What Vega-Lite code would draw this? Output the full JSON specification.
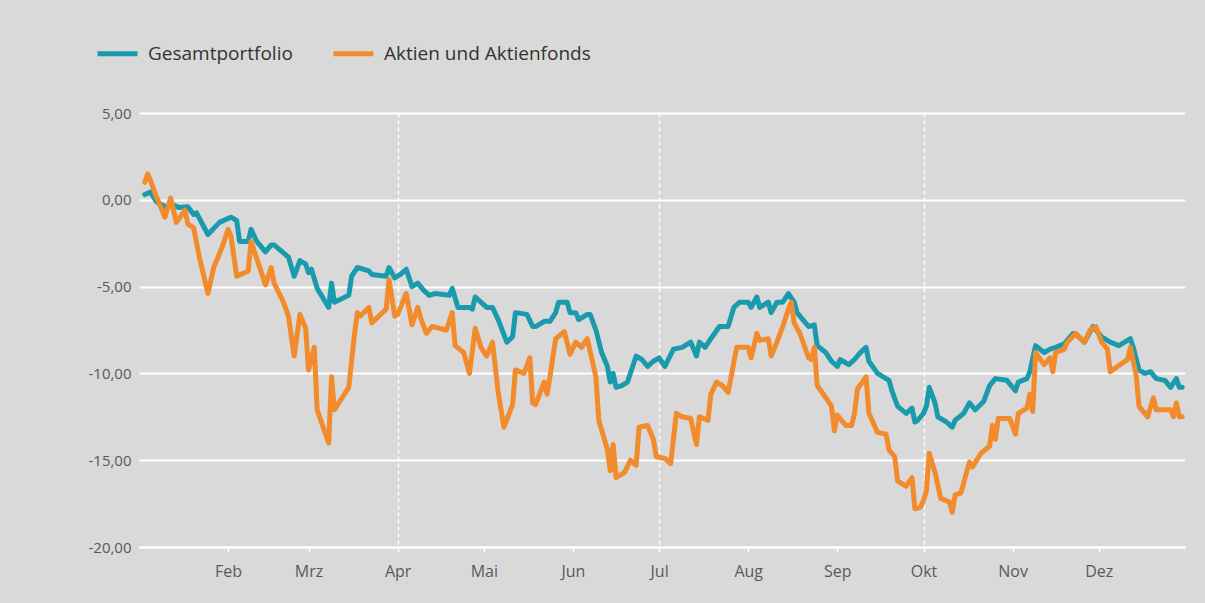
{
  "$schema": "https://vega.github.io/schema/vega-lite/v6.json",
  "width": 1046,
  "height": 434,
  "autosize": {"type": "none"},
  "padding": {"left": 139, "top": 113, "right": 20, "bottom": 56},
  "background": "#d9d9d9",
  "config": {
    "view": {"stroke": null},
    "font": "Open Sans"
  },
  "data": {"values": [
    {"date":"2022-01-03","s":"Gesamtportfolio","v":0.3},
    {"date":"2022-01-05","s":"Gesamtportfolio","v":0.45},
    {"date":"2022-01-07","s":"Gesamtportfolio","v":-0.1},
    {"date":"2022-01-10","s":"Gesamtportfolio","v":-0.4},
    {"date":"2022-01-13","s":"Gesamtportfolio","v":-0.3},
    {"date":"2022-01-15","s":"Gesamtportfolio","v":-0.45},
    {"date":"2022-01-18","s":"Gesamtportfolio","v":-0.4},
    {"date":"2022-01-20","s":"Gesamtportfolio","v":-0.85},
    {"date":"2022-01-21","s":"Gesamtportfolio","v":-0.75},
    {"date":"2022-01-25","s":"Gesamtportfolio","v":-2.0},
    {"date":"2022-01-29","s":"Gesamtportfolio","v":-1.3},
    {"date":"2022-02-02","s":"Gesamtportfolio","v":-1.0},
    {"date":"2022-02-04","s":"Gesamtportfolio","v":-1.2},
    {"date":"2022-02-05","s":"Gesamtportfolio","v":-2.4},
    {"date":"2022-02-08","s":"Gesamtportfolio","v":-2.4},
    {"date":"2022-02-09","s":"Gesamtportfolio","v":-1.7},
    {"date":"2022-02-11","s":"Gesamtportfolio","v":-2.4},
    {"date":"2022-02-14","s":"Gesamtportfolio","v":-3.0},
    {"date":"2022-02-16","s":"Gesamtportfolio","v":-2.6},
    {"date":"2022-02-17","s":"Gesamtportfolio","v":-2.6},
    {"date":"2022-02-22","s":"Gesamtportfolio","v":-3.3},
    {"date":"2022-02-24","s":"Gesamtportfolio","v":-4.4},
    {"date":"2022-02-26","s":"Gesamtportfolio","v":-3.5},
    {"date":"2022-02-28","s":"Gesamtportfolio","v":-3.7},
    {"date":"2022-03-01","s":"Gesamtportfolio","v":-4.2},
    {"date":"2022-03-02","s":"Gesamtportfolio","v":-4.0},
    {"date":"2022-03-04","s":"Gesamtportfolio","v":-5.1},
    {"date":"2022-03-08","s":"Gesamtportfolio","v":-6.2},
    {"date":"2022-03-09","s":"Gesamtportfolio","v":-4.8},
    {"date":"2022-03-10","s":"Gesamtportfolio","v":-5.9},
    {"date":"2022-03-15","s":"Gesamtportfolio","v":-5.5},
    {"date":"2022-03-16","s":"Gesamtportfolio","v":-4.4},
    {"date":"2022-03-18","s":"Gesamtportfolio","v":-3.9},
    {"date":"2022-03-22","s":"Gesamtportfolio","v":-4.1},
    {"date":"2022-03-23","s":"Gesamtportfolio","v":-4.3},
    {"date":"2022-03-28","s":"Gesamtportfolio","v":-4.4},
    {"date":"2022-03-29","s":"Gesamtportfolio","v":-3.9},
    {"date":"2022-03-31","s":"Gesamtportfolio","v":-4.5},
    {"date":"2022-04-02","s":"Gesamtportfolio","v":-4.3},
    {"date":"2022-04-04","s":"Gesamtportfolio","v":-4.0},
    {"date":"2022-04-06","s":"Gesamtportfolio","v":-5.0},
    {"date":"2022-04-08","s":"Gesamtportfolio","v":-4.8},
    {"date":"2022-04-10","s":"Gesamtportfolio","v":-5.2},
    {"date":"2022-04-12","s":"Gesamtportfolio","v":-5.5},
    {"date":"2022-04-14","s":"Gesamtportfolio","v":-5.4},
    {"date":"2022-04-19","s":"Gesamtportfolio","v":-5.5},
    {"date":"2022-04-20","s":"Gesamtportfolio","v":-5.1},
    {"date":"2022-04-22","s":"Gesamtportfolio","v":-6.2},
    {"date":"2022-04-26","s":"Gesamtportfolio","v":-6.2},
    {"date":"2022-04-27","s":"Gesamtportfolio","v":-6.3},
    {"date":"2022-04-28","s":"Gesamtportfolio","v":-5.6},
    {"date":"2022-05-02","s":"Gesamtportfolio","v":-6.2},
    {"date":"2022-05-04","s":"Gesamtportfolio","v":-6.2},
    {"date":"2022-05-06","s":"Gesamtportfolio","v":-6.9},
    {"date":"2022-05-09","s":"Gesamtportfolio","v":-8.2},
    {"date":"2022-05-11","s":"Gesamtportfolio","v":-7.9},
    {"date":"2022-05-12","s":"Gesamtportfolio","v":-6.5},
    {"date":"2022-05-16","s":"Gesamtportfolio","v":-6.6},
    {"date":"2022-05-18","s":"Gesamtportfolio","v":-7.3},
    {"date":"2022-05-19","s":"Gesamtportfolio","v":-7.3},
    {"date":"2022-05-22","s":"Gesamtportfolio","v":-7.0},
    {"date":"2022-05-24","s":"Gesamtportfolio","v":-7.0},
    {"date":"2022-05-26","s":"Gesamtportfolio","v":-6.5},
    {"date":"2022-05-27","s":"Gesamtportfolio","v":-5.9},
    {"date":"2022-05-30","s":"Gesamtportfolio","v":-5.9},
    {"date":"2022-05-31","s":"Gesamtportfolio","v":-6.5},
    {"date":"2022-06-02","s":"Gesamtportfolio","v":-6.5},
    {"date":"2022-06-03","s":"Gesamtportfolio","v":-6.9},
    {"date":"2022-06-06","s":"Gesamtportfolio","v":-6.6},
    {"date":"2022-06-07","s":"Gesamtportfolio","v":-6.6},
    {"date":"2022-06-09","s":"Gesamtportfolio","v":-7.5},
    {"date":"2022-06-11","s":"Gesamtportfolio","v":-8.8},
    {"date":"2022-06-13","s":"Gesamtportfolio","v":-9.6},
    {"date":"2022-06-14","s":"Gesamtportfolio","v":-10.5},
    {"date":"2022-06-15","s":"Gesamtportfolio","v":-10.0},
    {"date":"2022-06-16","s":"Gesamtportfolio","v":-10.8},
    {"date":"2022-06-18","s":"Gesamtportfolio","v":-10.7},
    {"date":"2022-06-20","s":"Gesamtportfolio","v":-10.5},
    {"date":"2022-06-23","s":"Gesamtportfolio","v":-9.0},
    {"date":"2022-06-25","s":"Gesamtportfolio","v":-9.2},
    {"date":"2022-06-27","s":"Gesamtportfolio","v":-9.6},
    {"date":"2022-06-29","s":"Gesamtportfolio","v":-9.3},
    {"date":"2022-07-01","s":"Gesamtportfolio","v":-9.1},
    {"date":"2022-07-03","s":"Gesamtportfolio","v":-9.6},
    {"date":"2022-07-06","s":"Gesamtportfolio","v":-8.6},
    {"date":"2022-07-09","s":"Gesamtportfolio","v":-8.5},
    {"date":"2022-07-12","s":"Gesamtportfolio","v":-8.2},
    {"date":"2022-07-14","s":"Gesamtportfolio","v":-9.0},
    {"date":"2022-07-15","s":"Gesamtportfolio","v":-8.2},
    {"date":"2022-07-17","s":"Gesamtportfolio","v":-8.5},
    {"date":"2022-07-19","s":"Gesamtportfolio","v":-8.0},
    {"date":"2022-07-22","s":"Gesamtportfolio","v":-7.3},
    {"date":"2022-07-25","s":"Gesamtportfolio","v":-7.3},
    {"date":"2022-07-27","s":"Gesamtportfolio","v":-6.2},
    {"date":"2022-07-29","s":"Gesamtportfolio","v":-5.9},
    {"date":"2022-08-01","s":"Gesamtportfolio","v":-5.9},
    {"date":"2022-08-02","s":"Gesamtportfolio","v":-6.2},
    {"date":"2022-08-04","s":"Gesamtportfolio","v":-5.6},
    {"date":"2022-08-05","s":"Gesamtportfolio","v":-6.2},
    {"date":"2022-08-08","s":"Gesamtportfolio","v":-5.9},
    {"date":"2022-08-09","s":"Gesamtportfolio","v":-6.5},
    {"date":"2022-08-11","s":"Gesamtportfolio","v":-5.9},
    {"date":"2022-08-13","s":"Gesamtportfolio","v":-5.9},
    {"date":"2022-08-15","s":"Gesamtportfolio","v":-5.4},
    {"date":"2022-08-17","s":"Gesamtportfolio","v":-5.9},
    {"date":"2022-08-18","s":"Gesamtportfolio","v":-6.5},
    {"date":"2022-08-22","s":"Gesamtportfolio","v":-7.3},
    {"date":"2022-08-24","s":"Gesamtportfolio","v":-7.2},
    {"date":"2022-08-25","s":"Gesamtportfolio","v":-8.4},
    {"date":"2022-08-28","s":"Gesamtportfolio","v":-8.8},
    {"date":"2022-08-30","s":"Gesamtportfolio","v":-9.3},
    {"date":"2022-09-01","s":"Gesamtportfolio","v":-9.6},
    {"date":"2022-09-02","s":"Gesamtportfolio","v":-9.2},
    {"date":"2022-09-05","s":"Gesamtportfolio","v":-9.5},
    {"date":"2022-09-07","s":"Gesamtportfolio","v":-9.2},
    {"date":"2022-09-09","s":"Gesamtportfolio","v":-8.8},
    {"date":"2022-09-11","s":"Gesamtportfolio","v":-8.5},
    {"date":"2022-09-12","s":"Gesamtportfolio","v":-9.3},
    {"date":"2022-09-15","s":"Gesamtportfolio","v":-10.0},
    {"date":"2022-09-19","s":"Gesamtportfolio","v":-10.4},
    {"date":"2022-09-20","s":"Gesamtportfolio","v":-11.0},
    {"date":"2022-09-22","s":"Gesamtportfolio","v":-11.9},
    {"date":"2022-09-25","s":"Gesamtportfolio","v":-12.3},
    {"date":"2022-09-27","s":"Gesamtportfolio","v":-12.0},
    {"date":"2022-09-28","s":"Gesamtportfolio","v":-12.8},
    {"date":"2022-09-29","s":"Gesamtportfolio","v":-12.7},
    {"date":"2022-10-01","s":"Gesamtportfolio","v":-12.3},
    {"date":"2022-10-02","s":"Gesamtportfolio","v":-11.9},
    {"date":"2022-10-03","s":"Gesamtportfolio","v":-10.8},
    {"date":"2022-10-05","s":"Gesamtportfolio","v":-11.7},
    {"date":"2022-10-06","s":"Gesamtportfolio","v":-12.5},
    {"date":"2022-10-09","s":"Gesamtportfolio","v":-12.8},
    {"date":"2022-10-11","s":"Gesamtportfolio","v":-13.1},
    {"date":"2022-10-12","s":"Gesamtportfolio","v":-12.7},
    {"date":"2022-10-15","s":"Gesamtportfolio","v":-12.3},
    {"date":"2022-10-17","s":"Gesamtportfolio","v":-11.7},
    {"date":"2022-10-19","s":"Gesamtportfolio","v":-12.1},
    {"date":"2022-10-22","s":"Gesamtportfolio","v":-11.6},
    {"date":"2022-10-24","s":"Gesamtportfolio","v":-10.7},
    {"date":"2022-10-26","s":"Gesamtportfolio","v":-10.3},
    {"date":"2022-10-30","s":"Gesamtportfolio","v":-10.4},
    {"date":"2022-11-02","s":"Gesamtportfolio","v":-11.0},
    {"date":"2022-11-03","s":"Gesamtportfolio","v":-10.5},
    {"date":"2022-11-06","s":"Gesamtportfolio","v":-10.3},
    {"date":"2022-11-07","s":"Gesamtportfolio","v":-9.9},
    {"date":"2022-11-09","s":"Gesamtportfolio","v":-8.4},
    {"date":"2022-11-12","s":"Gesamtportfolio","v":-8.8},
    {"date":"2022-11-14","s":"Gesamtportfolio","v":-8.6},
    {"date":"2022-11-16","s":"Gesamtportfolio","v":-8.5},
    {"date":"2022-11-19","s":"Gesamtportfolio","v":-8.3},
    {"date":"2022-11-22","s":"Gesamtportfolio","v":-7.7},
    {"date":"2022-11-24","s":"Gesamtportfolio","v":-7.9},
    {"date":"2022-11-26","s":"Gesamtportfolio","v":-8.2},
    {"date":"2022-11-29","s":"Gesamtportfolio","v":-7.3},
    {"date":"2022-12-02","s":"Gesamtportfolio","v":-7.9},
    {"date":"2022-12-05","s":"Gesamtportfolio","v":-8.2},
    {"date":"2022-12-08","s":"Gesamtportfolio","v":-8.4},
    {"date":"2022-12-11","s":"Gesamtportfolio","v":-8.1},
    {"date":"2022-12-12","s":"Gesamtportfolio","v":-8.0},
    {"date":"2022-12-13","s":"Gesamtportfolio","v":-8.5},
    {"date":"2022-12-15","s":"Gesamtportfolio","v":-9.8},
    {"date":"2022-12-17","s":"Gesamtportfolio","v":-10.0},
    {"date":"2022-12-19","s":"Gesamtportfolio","v":-9.9},
    {"date":"2022-12-21","s":"Gesamtportfolio","v":-10.3},
    {"date":"2022-12-24","s":"Gesamtportfolio","v":-10.4},
    {"date":"2022-12-26","s":"Gesamtportfolio","v":-10.8},
    {"date":"2022-12-28","s":"Gesamtportfolio","v":-10.3},
    {"date":"2022-12-29","s":"Gesamtportfolio","v":-10.8},
    {"date":"2022-12-30","s":"Gesamtportfolio","v":-10.8},
    {"date":"2022-01-03","s":"Aktien und Aktienfonds","v":1.0},
    {"date":"2022-01-04","s":"Aktien und Aktienfonds","v":1.5},
    {"date":"2022-01-05","s":"Aktien und Aktienfonds","v":1.1},
    {"date":"2022-01-07","s":"Aktien und Aktienfonds","v":0.2},
    {"date":"2022-01-10","s":"Aktien und Aktienfonds","v":-1.0},
    {"date":"2022-01-12","s":"Aktien und Aktienfonds","v":0.1},
    {"date":"2022-01-14","s":"Aktien und Aktienfonds","v":-1.3},
    {"date":"2022-01-17","s":"Aktien und Aktienfonds","v":-0.6},
    {"date":"2022-01-18","s":"Aktien und Aktienfonds","v":-1.4},
    {"date":"2022-01-20","s":"Aktien und Aktienfonds","v":-1.6},
    {"date":"2022-01-22","s":"Aktien und Aktienfonds","v":-3.3},
    {"date":"2022-01-25","s":"Aktien und Aktienfonds","v":-5.4},
    {"date":"2022-01-27","s":"Aktien und Aktienfonds","v":-3.9},
    {"date":"2022-01-30","s":"Aktien und Aktienfonds","v":-2.7},
    {"date":"2022-02-01","s":"Aktien und Aktienfonds","v":-1.7},
    {"date":"2022-02-02","s":"Aktien und Aktienfonds","v":-2.1},
    {"date":"2022-02-04","s":"Aktien und Aktienfonds","v":-4.4},
    {"date":"2022-02-08","s":"Aktien und Aktienfonds","v":-4.1},
    {"date":"2022-02-09","s":"Aktien und Aktienfonds","v":-2.4},
    {"date":"2022-02-14","s":"Aktien und Aktienfonds","v":-4.9},
    {"date":"2022-02-16","s":"Aktien und Aktienfonds","v":-3.9},
    {"date":"2022-02-17","s":"Aktien und Aktienfonds","v":-4.8},
    {"date":"2022-02-20","s":"Aktien und Aktienfonds","v":-5.8},
    {"date":"2022-02-22","s":"Aktien und Aktienfonds","v":-6.7},
    {"date":"2022-02-24","s":"Aktien und Aktienfonds","v":-9.0},
    {"date":"2022-02-26","s":"Aktien und Aktienfonds","v":-6.6},
    {"date":"2022-02-28","s":"Aktien und Aktienfonds","v":-7.4},
    {"date":"2022-03-01","s":"Aktien und Aktienfonds","v":-9.8},
    {"date":"2022-03-03","s":"Aktien und Aktienfonds","v":-8.5},
    {"date":"2022-03-04","s":"Aktien und Aktienfonds","v":-12.1},
    {"date":"2022-03-08","s":"Aktien und Aktienfonds","v":-14.0},
    {"date":"2022-03-09","s":"Aktien und Aktienfonds","v":-10.2},
    {"date":"2022-03-10","s":"Aktien und Aktienfonds","v":-12.1},
    {"date":"2022-03-15","s":"Aktien und Aktienfonds","v":-10.8},
    {"date":"2022-03-17","s":"Aktien und Aktienfonds","v":-7.7},
    {"date":"2022-03-18","s":"Aktien und Aktienfonds","v":-6.5},
    {"date":"2022-03-19","s":"Aktien und Aktienfonds","v":-6.7},
    {"date":"2022-03-22","s":"Aktien und Aktienfonds","v":-6.2},
    {"date":"2022-03-23","s":"Aktien und Aktienfonds","v":-7.1},
    {"date":"2022-03-28","s":"Aktien und Aktienfonds","v":-6.3},
    {"date":"2022-03-29","s":"Aktien und Aktienfonds","v":-4.6},
    {"date":"2022-03-31","s":"Aktien und Aktienfonds","v":-6.7},
    {"date":"2022-04-01","s":"Aktien und Aktienfonds","v":-6.6},
    {"date":"2022-04-04","s":"Aktien und Aktienfonds","v":-5.4},
    {"date":"2022-04-06","s":"Aktien und Aktienfonds","v":-7.2},
    {"date":"2022-04-08","s":"Aktien und Aktienfonds","v":-6.2},
    {"date":"2022-04-09","s":"Aktien und Aktienfonds","v":-6.8},
    {"date":"2022-04-11","s":"Aktien und Aktienfonds","v":-7.7},
    {"date":"2022-04-13","s":"Aktien und Aktienfonds","v":-7.3},
    {"date":"2022-04-18","s":"Aktien und Aktienfonds","v":-7.5},
    {"date":"2022-04-20","s":"Aktien und Aktienfonds","v":-6.5},
    {"date":"2022-04-21","s":"Aktien und Aktienfonds","v":-8.4},
    {"date":"2022-04-24","s":"Aktien und Aktienfonds","v":-8.8},
    {"date":"2022-04-26","s":"Aktien und Aktienfonds","v":-10.0},
    {"date":"2022-04-28","s":"Aktien und Aktienfonds","v":-7.4},
    {"date":"2022-04-30","s":"Aktien und Aktienfonds","v":-8.5},
    {"date":"2022-05-02","s":"Aktien und Aktienfonds","v":-9.0},
    {"date":"2022-05-04","s":"Aktien und Aktienfonds","v":-8.2},
    {"date":"2022-05-06","s":"Aktien und Aktienfonds","v":-11.1},
    {"date":"2022-05-08","s":"Aktien und Aktienfonds","v":-13.1},
    {"date":"2022-05-11","s":"Aktien und Aktienfonds","v":-11.8},
    {"date":"2022-05-12","s":"Aktien und Aktienfonds","v":-9.8},
    {"date":"2022-05-15","s":"Aktien und Aktienfonds","v":-10.0},
    {"date":"2022-05-17","s":"Aktien und Aktienfonds","v":-9.1},
    {"date":"2022-05-18","s":"Aktien und Aktienfonds","v":-11.7},
    {"date":"2022-05-19","s":"Aktien und Aktienfonds","v":-11.8},
    {"date":"2022-05-22","s":"Aktien und Aktienfonds","v":-10.5},
    {"date":"2022-05-23","s":"Aktien und Aktienfonds","v":-11.2},
    {"date":"2022-05-24","s":"Aktien und Aktienfonds","v":-10.2},
    {"date":"2022-05-26","s":"Aktien und Aktienfonds","v":-8.0},
    {"date":"2022-05-29","s":"Aktien und Aktienfonds","v":-7.6},
    {"date":"2022-05-31","s":"Aktien und Aktienfonds","v":-8.9},
    {"date":"2022-06-02","s":"Aktien und Aktienfonds","v":-8.2},
    {"date":"2022-06-04","s":"Aktien und Aktienfonds","v":-8.5},
    {"date":"2022-06-06","s":"Aktien und Aktienfonds","v":-8.0},
    {"date":"2022-06-09","s":"Aktien und Aktienfonds","v":-10.2},
    {"date":"2022-06-10","s":"Aktien und Aktienfonds","v":-12.7},
    {"date":"2022-06-13","s":"Aktien und Aktienfonds","v":-14.4},
    {"date":"2022-06-14","s":"Aktien und Aktienfonds","v":-15.6},
    {"date":"2022-06-15","s":"Aktien und Aktienfonds","v":-14.1},
    {"date":"2022-06-16","s":"Aktien und Aktienfonds","v":-16.0},
    {"date":"2022-06-19","s":"Aktien und Aktienfonds","v":-15.7},
    {"date":"2022-06-21","s":"Aktien und Aktienfonds","v":-15.0},
    {"date":"2022-06-23","s":"Aktien und Aktienfonds","v":-15.3},
    {"date":"2022-06-24","s":"Aktien und Aktienfonds","v":-13.1},
    {"date":"2022-06-27","s":"Aktien und Aktienfonds","v":-13.0},
    {"date":"2022-06-29","s":"Aktien und Aktienfonds","v":-13.8},
    {"date":"2022-06-30","s":"Aktien und Aktienfonds","v":-14.8},
    {"date":"2022-07-03","s":"Aktien und Aktienfonds","v":-14.9},
    {"date":"2022-07-05","s":"Aktien und Aktienfonds","v":-15.2},
    {"date":"2022-07-07","s":"Aktien und Aktienfonds","v":-12.3},
    {"date":"2022-07-09","s":"Aktien und Aktienfonds","v":-12.5},
    {"date":"2022-07-12","s":"Aktien und Aktienfonds","v":-12.6},
    {"date":"2022-07-14","s":"Aktien und Aktienfonds","v":-14.1},
    {"date":"2022-07-15","s":"Aktien und Aktienfonds","v":-12.5},
    {"date":"2022-07-18","s":"Aktien und Aktienfonds","v":-12.7},
    {"date":"2022-07-19","s":"Aktien und Aktienfonds","v":-11.2},
    {"date":"2022-07-21","s":"Aktien und Aktienfonds","v":-10.5},
    {"date":"2022-07-23","s":"Aktien und Aktienfonds","v":-10.7},
    {"date":"2022-07-25","s":"Aktien und Aktienfonds","v":-11.1},
    {"date":"2022-07-28","s":"Aktien und Aktienfonds","v":-8.5},
    {"date":"2022-08-01","s":"Aktien und Aktienfonds","v":-8.5},
    {"date":"2022-08-02","s":"Aktien und Aktienfonds","v":-9.1},
    {"date":"2022-08-04","s":"Aktien und Aktienfonds","v":-7.7},
    {"date":"2022-08-05","s":"Aktien und Aktienfonds","v":-8.1},
    {"date":"2022-08-08","s":"Aktien und Aktienfonds","v":-8.0},
    {"date":"2022-08-09","s":"Aktien und Aktienfonds","v":-9.0},
    {"date":"2022-08-11","s":"Aktien und Aktienfonds","v":-8.2},
    {"date":"2022-08-13","s":"Aktien und Aktienfonds","v":-7.3},
    {"date":"2022-08-15","s":"Aktien und Aktienfonds","v":-6.3},
    {"date":"2022-08-16","s":"Aktien und Aktienfonds","v":-5.9},
    {"date":"2022-08-17","s":"Aktien und Aktienfonds","v":-7.1},
    {"date":"2022-08-19","s":"Aktien und Aktienfonds","v":-7.7},
    {"date":"2022-08-22","s":"Aktien und Aktienfonds","v":-9.1},
    {"date":"2022-08-23","s":"Aktien und Aktienfonds","v":-9.2},
    {"date":"2022-08-24","s":"Aktien und Aktienfonds","v":-8.5},
    {"date":"2022-08-25","s":"Aktien und Aktienfonds","v":-10.7},
    {"date":"2022-08-28","s":"Aktien und Aktienfonds","v":-11.4},
    {"date":"2022-08-30","s":"Aktien und Aktienfonds","v":-11.9},
    {"date":"2022-08-31","s":"Aktien und Aktienfonds","v":-13.3},
    {"date":"2022-09-01","s":"Aktien und Aktienfonds","v":-12.4},
    {"date":"2022-09-04","s":"Aktien und Aktienfonds","v":-13.0},
    {"date":"2022-09-06","s":"Aktien und Aktienfonds","v":-13.0},
    {"date":"2022-09-07","s":"Aktien und Aktienfonds","v":-12.3},
    {"date":"2022-09-08","s":"Aktien und Aktienfonds","v":-10.9},
    {"date":"2022-09-11","s":"Aktien und Aktienfonds","v":-10.2},
    {"date":"2022-09-12","s":"Aktien und Aktienfonds","v":-12.3},
    {"date":"2022-09-15","s":"Aktien und Aktienfonds","v":-13.4},
    {"date":"2022-09-18","s":"Aktien und Aktienfonds","v":-13.5},
    {"date":"2022-09-19","s":"Aktien und Aktienfonds","v":-14.4},
    {"date":"2022-09-21","s":"Aktien und Aktienfonds","v":-14.8},
    {"date":"2022-09-22","s":"Aktien und Aktienfonds","v":-16.2},
    {"date":"2022-09-25","s":"Aktien und Aktienfonds","v":-16.5},
    {"date":"2022-09-27","s":"Aktien und Aktienfonds","v":-16.0},
    {"date":"2022-09-28","s":"Aktien und Aktienfonds","v":-17.8},
    {"date":"2022-09-30","s":"Aktien und Aktienfonds","v":-17.7},
    {"date":"2022-10-01","s":"Aktien und Aktienfonds","v":-17.3},
    {"date":"2022-10-02","s":"Aktien und Aktienfonds","v":-16.8},
    {"date":"2022-10-03","s":"Aktien und Aktienfonds","v":-14.6},
    {"date":"2022-10-05","s":"Aktien und Aktienfonds","v":-15.7},
    {"date":"2022-10-07","s":"Aktien und Aktienfonds","v":-17.2},
    {"date":"2022-10-10","s":"Aktien und Aktienfonds","v":-17.4},
    {"date":"2022-10-11","s":"Aktien und Aktienfonds","v":-18.0},
    {"date":"2022-10-12","s":"Aktien und Aktienfonds","v":-17.0},
    {"date":"2022-10-14","s":"Aktien und Aktienfonds","v":-16.9},
    {"date":"2022-10-17","s":"Aktien und Aktienfonds","v":-15.1},
    {"date":"2022-10-18","s":"Aktien und Aktienfonds","v":-15.4},
    {"date":"2022-10-21","s":"Aktien und Aktienfonds","v":-14.6},
    {"date":"2022-10-24","s":"Aktien und Aktienfonds","v":-14.2},
    {"date":"2022-10-25","s":"Aktien und Aktienfonds","v":-13.0},
    {"date":"2022-10-26","s":"Aktien und Aktienfonds","v":-13.8},
    {"date":"2022-10-27","s":"Aktien und Aktienfonds","v":-12.6},
    {"date":"2022-10-31","s":"Aktien und Aktienfonds","v":-12.6},
    {"date":"2022-11-02","s":"Aktien und Aktienfonds","v":-13.5},
    {"date":"2022-11-03","s":"Aktien und Aktienfonds","v":-12.3},
    {"date":"2022-11-06","s":"Aktien und Aktienfonds","v":-12.0},
    {"date":"2022-11-07","s":"Aktien und Aktienfonds","v":-11.2},
    {"date":"2022-11-08","s":"Aktien und Aktienfonds","v":-12.2},
    {"date":"2022-11-09","s":"Aktien und Aktienfonds","v":-8.8},
    {"date":"2022-11-12","s":"Aktien und Aktienfonds","v":-9.5},
    {"date":"2022-11-14","s":"Aktien und Aktienfonds","v":-9.1},
    {"date":"2022-11-15","s":"Aktien und Aktienfonds","v":-9.9},
    {"date":"2022-11-16","s":"Aktien und Aktienfonds","v":-8.8},
    {"date":"2022-11-19","s":"Aktien und Aktienfonds","v":-8.6},
    {"date":"2022-11-20","s":"Aktien und Aktienfonds","v":-8.2},
    {"date":"2022-11-23","s":"Aktien und Aktienfonds","v":-7.7},
    {"date":"2022-11-26","s":"Aktien und Aktienfonds","v":-8.2},
    {"date":"2022-11-28","s":"Aktien und Aktienfonds","v":-7.5},
    {"date":"2022-11-30","s":"Aktien und Aktienfonds","v":-7.3},
    {"date":"2022-12-02","s":"Aktien und Aktienfonds","v":-8.2},
    {"date":"2022-12-04","s":"Aktien und Aktienfonds","v":-8.6},
    {"date":"2022-12-05","s":"Aktien und Aktienfonds","v":-9.9},
    {"date":"2022-12-11","s":"Aktien und Aktienfonds","v":-9.2},
    {"date":"2022-12-12","s":"Aktien und Aktienfonds","v":-8.5},
    {"date":"2022-12-14","s":"Aktien und Aktienfonds","v":-10.1},
    {"date":"2022-12-15","s":"Aktien und Aktienfonds","v":-11.9},
    {"date":"2022-12-18","s":"Aktien und Aktienfonds","v":-12.5},
    {"date":"2022-12-20","s":"Aktien und Aktienfonds","v":-11.4},
    {"date":"2022-12-21","s":"Aktien und Aktienfonds","v":-12.1},
    {"date":"2022-12-26","s":"Aktien und Aktienfonds","v":-12.1},
    {"date":"2022-12-27","s":"Aktien und Aktienfonds","v":-12.5},
    {"date":"2022-12-28","s":"Aktien und Aktienfonds","v":-11.7},
    {"date":"2022-12-29","s":"Aktien und Aktienfonds","v":-12.5},
    {"date":"2022-12-30","s":"Aktien und Aktienfonds","v":-12.5}
  ]},
  "mark": {"type": "line", "strokeWidth": 5, "strokeJoin": "round", "strokeCap": "round"},
  "encoding": {
    "x": {
      "field": "date",
      "type": "temporal",
      "scale": {"type": "utc", "domain": [{"year": 2022, "month": 1, "date": 1, "utc": true}, {"year": 2022, "month": 12, "date": 31, "utc": true}]},
      "axis": {
        "title": null,
        "values": [
          {"year": 2022, "month": 2, "date": 1, "utc": true},
          {"year": 2022, "month": 3, "date": 1, "utc": true},
          {"year": 2022, "month": 4, "date": 1, "utc": true},
          {"year": 2022, "month": 5, "date": 1, "utc": true},
          {"year": 2022, "month": 6, "date": 1, "utc": true},
          {"year": 2022, "month": 7, "date": 1, "utc": true},
          {"year": 2022, "month": 8, "date": 1, "utc": true},
          {"year": 2022, "month": 9, "date": 1, "utc": true},
          {"year": 2022, "month": 10, "date": 1, "utc": true},
          {"year": 2022, "month": 11, "date": 1, "utc": true},
          {"year": 2022, "month": 12, "date": 1, "utc": true}
        ],
        "labelExpr": "['Jan','Feb','Mrz','Apr','Mai','Jun','Jul','Aug','Sep','Okt','Nov','Dez'][utcmonth(datum.value)]",
        "labelFontSize": 16,
        "labelColor": "#595959",
        "labelPadding": 11,
        "labelFlush": false,
        "domain": true,
        "domainColor": "#ffffff",
        "domainWidth": 2,
        "ticks": true,
        "tickColor": "#ffffff",
        "tickSize": 5,
        "tickWidth": 1.5,
        "grid": true,
        "gridColor": "#ffffff",
        "gridWidth": 1.5,
        "gridDash": [4, 3],
        "gridOpacity": {"condition": {"test": "utcmonth(datum.value) % 3 == 0", "value": 1}, "value": 0}
      }
    },
    "y": {
      "field": "v",
      "type": "quantitative",
      "scale": {"domain": [-20, 5], "nice": false, "zero": false},
      "axis": {
        "title": null,
        "values": [-20, -15, -10, -5, 0, 5],
        "labelExpr": "(datum.value < 0 ? '-' : '') + replace(format(abs(datum.value), '.2f'), '.', ',')",
        "labelFontSize": 15,
        "labelColor": "#595959",
        "labelPadding": 8,
        "domain": false,
        "ticks": false,
        "grid": true,
        "gridColor": "#ffffff",
        "gridWidth": 2
      }
    },
    "color": {
      "field": "s",
      "type": "nominal",
      "scale": {"domain": ["Gesamtportfolio", "Aktien und Aktienfonds"], "range": ["#1a9bad", "#f28b2c"]},
      "legend": {
        "title": null,
        "orient": "none",
        "legendX": -44,
        "legendY": -82,
        "direction": "horizontal",
        "symbolType": "stroke",
        "symbolStrokeWidth": 5,
        "symbolSize": 1600,
        "labelFontSize": 19,
        "labelColor": "#333333",
        "labelOffset": 8,
        "labelLimit": 400,
        "columnPadding": 30
      }
    }
  }
}
